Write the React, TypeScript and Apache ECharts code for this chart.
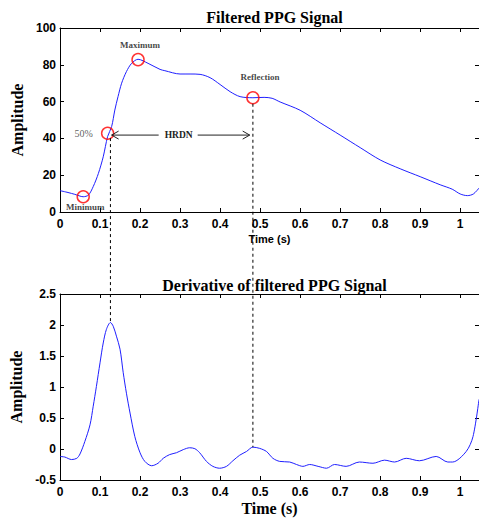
import React, { useEffect, useRef } from "react";
import * as echarts from "echarts";

// Filtered PPG signal (time in s, amplitude)
const ppgTime = [0, 0.02, 0.037, 0.058, 0.071, 0.083, 0.096, 0.108, 0.119, 0.129, 0.137, 0.145, 0.154, 0.166, 0.179, 0.195, 0.22, 0.25, 0.262, 0.3, 0.325, 0.35, 0.375, 0.4, 0.425, 0.45, 0.482, 0.51, 0.53, 0.55, 0.6, 0.65, 0.7, 0.75, 0.8, 0.85, 0.9, 0.95, 0.98, 1.0, 1.018, 1.033, 1.047];
const ppgAmplitude = [11.6, 10.6, 9.6, 8.3, 9.2, 13.8, 21, 30, 41, 46.4, 55.4, 62.7, 70, 76.3, 80.8, 83, 80.8, 77.5, 76.8, 75, 75, 74.8, 73, 69.3, 65.4, 62.7, 62.1, 62.3, 61.8, 59.8, 55.3, 48.5, 41.8, 35, 28.3, 23.5, 19.2, 14.8, 12.4, 9.8, 8.9, 9.8, 13];

// Derivative of filtered PPG signal
const derivTime = [0, 0.012, 0.029, 0.042, 0.05, 0.062, 0.075, 0.083, 0.091, 0.1, 0.108, 0.116, 0.126, 0.133, 0.141, 0.15, 0.158, 0.166, 0.175, 0.187, 0.2, 0.212, 0.229, 0.245, 0.258, 0.274, 0.291, 0.308, 0.324, 0.337, 0.349, 0.366, 0.382, 0.399, 0.416, 0.432, 0.449, 0.466, 0.482, 0.499, 0.516, 0.532, 0.549, 0.574, 0.591, 0.607, 0.624, 0.645, 0.666, 0.686, 0.715, 0.748, 0.782, 0.811, 0.836, 0.865, 0.898, 0.94, 0.969, 0.981, 1.015, 1.032, 1.047];
const derivAmplitude = [-0.12, -0.13, -0.17, -0.15, -0.08, 0.12, 0.39, 0.69, 1.01, 1.39, 1.71, 1.93, 2.04, 1.98, 1.82, 1.61, 1.23, 0.9, 0.58, 0.2, -0.06, -0.2, -0.27, -0.23, -0.15, -0.09, -0.06, -0.01, 0.02, 0.005, -0.06, -0.2, -0.28, -0.31, -0.28, -0.19, -0.1, -0.04, 0.03, 0.01, -0.04, -0.15, -0.2, -0.21, -0.25, -0.28, -0.25, -0.28, -0.31, -0.25, -0.28, -0.21, -0.23, -0.18, -0.21, -0.15, -0.19, -0.12, -0.21, -0.21, -0.04, 0.2, 0.8];

// Feature points on the filtered signal
const markerTime = [0.058, 0.119, 0.195, 0.482];
const markerAmplitude = [8.3, 42.8, 82.8, 62.1];
const markerNames = ["Minimum", "50%", "Maximum", "Reflection"];

// HRDN interval and the matching derivative points
const hrdnStart = 0.129;
const hrdnEnd = 0.474;
const hrdnLevel = 41.8;
const guideTime = [0.126, 0.482];
const guideTopValue = [41.8, 62.1];
const guideDerivValue = [2.04, 0.03];

// Axis ranges
const xMin = 0;
const xMax = 1.047;
const xInterval = 0.1;
const ppgRange = [0, 100, 20];
const derivRange = [-0.5, 2.5, 0.5];

const SERIF = "'Liberation Serif', 'Times New Roman', serif";
const SANS = "'Liberation Sans', Arial, Helvetica, sans-serif";

export default function App() {
  const ref = useRef<HTMLDivElement>(null);

  useEffect(() => {
    if (!ref.current) return;
    const chart = echarts.init(ref.current, null, { renderer: "svg" });

    const tickLabel = { fontFamily: SANS, fontWeight: "bold", fontSize: 12, color: "#000" };
    const axisLine = { show: true, onZero: false, lineStyle: { color: "#000", width: 1 } };
    const tick = { show: true, inside: true, length: 4, lineStyle: { color: "#000" } };

    const xBottom = (grid: number, name: string, nameStyle: any, nameGap: number) => ({
      type: "value",
      gridIndex: grid,
      position: "bottom",
      min: xMin,
      max: xMax,
      interval: xInterval,
      axisLine,
      axisTick: tick,
      splitLine: { show: false },
      axisLabel: { ...tickLabel, margin: 6, showMaxLabel: false },
      name,
      nameLocation: "middle",
      nameGap,
      nameTextStyle: nameStyle,
    });
    const xTop = (grid: number) => ({
      type: "value",
      gridIndex: grid,
      position: "top",
      min: xMin,
      max: xMax,
      interval: xInterval,
      axisLine,
      axisTick: tick,
      splitLine: { show: false },
      axisLabel: { show: false },
    });
    const yLeft = (grid: number, r: number[]) => ({
      type: "value",
      gridIndex: grid,
      position: "left",
      min: r[0],
      max: r[1],
      interval: r[2],
      axisLine,
      axisTick: tick,
      splitLine: { show: false },
      axisLabel: { ...tickLabel, margin: 4 },
      name: "Amplitude",
      nameLocation: "middle",
      nameGap: 27,
      nameTextStyle: { fontFamily: SERIF, fontWeight: "bold", fontSize: 16, color: "#000" },
    });
    const yRight = (grid: number, r: number[]) => ({
      type: "value",
      gridIndex: grid,
      position: "right",
      min: r[0],
      max: r[1],
      interval: r[2],
      axisLine,
      axisTick: tick,
      splitLine: { show: false },
      axisLabel: { show: false },
    });

    const labelOffsets: Record<string, number[]> = {
      Minimum: [2, 10],
      "50%": [-24, 0.5],
      Maximum: [2, -15],
      Reflection: [7, -20.5],
    };

    chart.setOption({
      animation: false,
      backgroundColor: "#fff",
      title: [
        {
          text: "Filtered PPG Signal",
          left: 269.5,
          top: 4,
          textAlign: "center",
          textStyle: { fontFamily: SERIF, fontWeight: "bold", fontSize: 16, color: "#000" },
        },
        {
          text: "Derivative of filtered PPG Signal",
          left: 269.5,
          top: 272,
          textAlign: "center",
          textStyle: { fontFamily: SERIF, fontWeight: "bold", fontSize: 16, color: "#000" },
        },
      ],
      grid: [
        { left: 60, top: 28, width: 420, height: 184 },
        { left: 60, top: 294, width: 420, height: 186 },
      ],
      xAxis: [
        xBottom(0, "Time (s)", { fontFamily: SANS, fontWeight: "bold", fontSize: 11, color: "#000" }, 21),
        xTop(0),
        xBottom(1, "Time (s)", { fontFamily: SERIF, fontWeight: "bold", fontSize: 16, color: "#000" }, 20),
        xTop(1),
      ],
      yAxis: [yLeft(0, ppgRange), yRight(0, ppgRange), yLeft(1, derivRange), yRight(1, derivRange)],
      series: [
        {
          type: "line",
          xAxisIndex: 0,
          yAxisIndex: 0,
          data: ppgTime.map((t, i) => [t, ppgAmplitude[i]]),
          showSymbol: false,
          smooth: 0.3,
          lineStyle: { color: "#1f1fff", width: 1 },
          z: 2,
        },
        {
          type: "scatter",
          xAxisIndex: 0,
          yAxisIndex: 0,
          data: markerTime.map((t, i) => ({
            value: [t, markerAmplitude[i]],
            name: markerNames[i],
            label:
              markerNames[i] === "50%"
                ? { fontFamily: SERIF, fontWeight: "normal", fontSize: 10, color: "#333" }
                : { fontFamily: SERIF, fontWeight: "bold", fontSize: 9, color: "#111" },
          })),
          symbol: "circle",
          symbolSize: 12,
          itemStyle: { color: "rgba(0,0,0,0)", borderColor: "#ff0000", borderWidth: 1.5 },
          label: {
            show: true,
            position: "inside",
            formatter: (p: any) => p.name,
          },
          labelLayout: (p: any) => {
            const o = labelOffsets[markerNames[p.dataIndex]];
            return { dx: o[0], dy: o[1] };
          },
          z: 5,
        },
        {
          type: "line",
          xAxisIndex: 2,
          yAxisIndex: 2,
          data: derivTime.map((t, i) => [t, derivAmplitude[i]]),
          showSymbol: false,
          smooth: 0.3,
          lineStyle: { color: "#1f1fff", width: 1 },
        },
      ],
    });

    const top = (x: number, y: number) => chart.convertToPixel({ xAxisIndex: 0, yAxisIndex: 0 }, [x, y]) as number[];
    const bot = (x: number, y: number) => chart.convertToPixel({ xAxisIndex: 2, yAxisIndex: 2 }, [x, y]) as number[];

    const graphics: any[] = [];
    const dash = { stroke: "#000", lineWidth: 1, lineDash: [3, 3] };
    guideTime.forEach((t, i) => {
      const a = top(t, guideTopValue[i]);
      const b = bot(t, guideDerivValue[i]);
      graphics.push({
        type: "line",
        z: 50,
        shape: { x1: a[0], y1: a[1] + (i === 0 ? 3 : 6), x2: b[0], y2: b[1] },
        style: dash,
      });
    });

    const A = top(hrdnStart, hrdnLevel);
    const B = top(hrdnEnd, hrdnLevel);
    const mid = (A[0] + B[0]) / 2 - 2;
    const lineStyle = { stroke: "#222", lineWidth: 1 };
    graphics.push(
      { type: "line", z: 50, shape: { x1: A[0], y1: A[1], x2: mid - 20, y2: A[1] }, style: lineStyle },
      { type: "line", z: 50, shape: { x1: mid + 19, y1: B[1], x2: B[0], y2: B[1] }, style: lineStyle },
      { type: "polyline", z: 50, shape: { points: [[A[0] + 7, A[1] - 4], [A[0], A[1]], [A[0] + 7, A[1] + 4]] }, style: { ...lineStyle, fill: null } },
      { type: "polyline", z: 50, shape: { points: [[B[0] - 7, B[1] - 4], [B[0], B[1]], [B[0] - 7, B[1] + 4]] }, style: { ...lineStyle, fill: null } },
      {
        type: "text",
        z: 50,
        x: mid,
        y: A[1],
        style: { text: "HRDN", fontFamily: SERIF, fontWeight: "bold", fontSize: 9.5, fill: "#222", align: "center", verticalAlign: "middle" },
      }
    );
    chart.setOption({ graphic: graphics });

    return () => chart.dispose();
  }, []);

  return <div ref={ref} style={{ position: "absolute", left: 0, top: 0, width: 479, height: 521 }} />;
}
